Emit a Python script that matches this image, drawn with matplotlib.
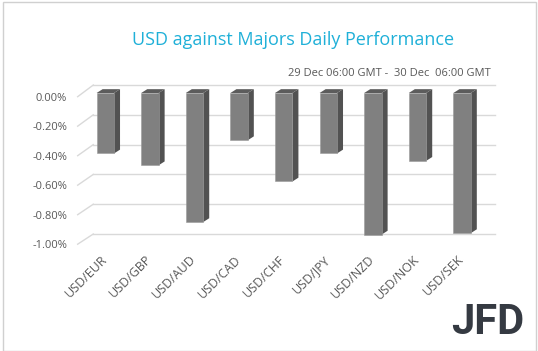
import matplotlib
matplotlib.use('Agg')
import matplotlib.pyplot as plt
import matplotlib.patches as mpatches

PAIRS = ['USD/EUR', 'USD/GBP', 'USD/AUD', 'USD/CAD', 'USD/CHF',
         'USD/JPY', 'USD/NZD', 'USD/NOK', 'USD/SEK']
CHANGE = [-0.41, -0.49, -0.875, -0.32, -0.60, -0.41, -0.96, -0.46, -0.95]
Y_TICKS = [0.0, -0.2, -0.4, -0.6, -0.8, -1.0]

TITLE = 'USD against Majors Daily Performance'
SUBTITLE = '29 Dec 06:00 GMT -  30 Dec  06:00 GMT'

FRONT = '#808080'
SIDE = '#525252'
TOP = '#5c5c5c'
GRID = '#d9d9d9'
TXT = '#595959'

# fake 3D geometry (data units)
BAR_W = 0.39
DX, DY = 0.135, 0.026          # bar depth offset
BACK_X0, BACK_X1 = -0.27, 8.74  # back wall extent
BACK_SHIFT, BACK_SCALE = 0.054, 1.01
FRONT_X = -0.62
FRONT_SHIFT = -0.025

plt.rcParams['font.family'] = ['Open Sans', 'DejaVu Sans']

W, H = 538, 351
fig = plt.figure(figsize=(W / 100, H / 100), dpi=100)
fig.patch.set_facecolor('white')
fig.patches.append(mpatches.Rectangle((2.5 / W, 0.5 / H), 1 - 5 / W, 1 - 2 / H,
                                      transform=fig.transFigure, fill=False,
                                      edgecolor='#d0d0d0', linewidth=1.0))

ax = fig.add_axes([60 / W, (H - 250) / H, 440 / W, 170 / H])
ax.set_xlim(-1.016, 8.85)
ax.set_ylim(-1.0644, 0.0881)
ax.axis('off')

# back wall gridlines + floor diagonals
for g in Y_TICKS:
    yb = BACK_SHIFT + g * BACK_SCALE
    ax.plot([BACK_X0, BACK_X1], [yb, yb], color=GRID, lw=1.0, zorder=1)
    ax.plot([FRONT_X, BACK_X0], [FRONT_SHIFT + g, yb], color=GRID, lw=1.0, zorder=1)
    ax.text(-0.86, g - 0.034, f'{g:.2f}%', ha='right', va='center',
            fontsize=8, color=TXT)

x = list(range(len(PAIRS)))
ax.bar(x, CHANGE, width=BAR_W, color=FRONT, edgecolor='#9a9a9a',
       linewidth=0.4, zorder=3)
for xi, v in zip(x, CHANGE):
    r = xi + BAR_W / 2
    l = xi - BAR_W / 2
    ax.add_patch(mpatches.Polygon([(r, 0), (r + DX, DY), (r + DX, v + DY), (r, v)],
                                  closed=True, facecolor=SIDE, edgecolor='none', zorder=2))
    ax.add_patch(mpatches.Polygon([(l, 0), (r, 0), (r + DX, DY), (l + DX, DY)],
                                  closed=True, facecolor=TOP, edgecolor='none', zorder=2))
    ax.text(xi - 0.01, -1.115, PAIRS[xi], rotation=45, rotation_mode='anchor',
            ha='right', va='center', fontsize=9, color=TXT, clip_on=False)

fig.text(293 / W, 1 - 40 / H, TITLE, ha='center', va='center',
         fontsize=13, color='#1fb0d8')
fig.text(491 / W, 1 - 73 / H, SUBTITLE, ha='right', va='center',
         fontsize=8, color=TXT)
fig.text(488 / W, 1 - 323 / H, 'JFD', ha='center', va='center',
         fontsize=30, fontweight='bold', family='Roboto', color='#353a42')

fig.savefig('out.png', dpi=100, facecolor='white')
